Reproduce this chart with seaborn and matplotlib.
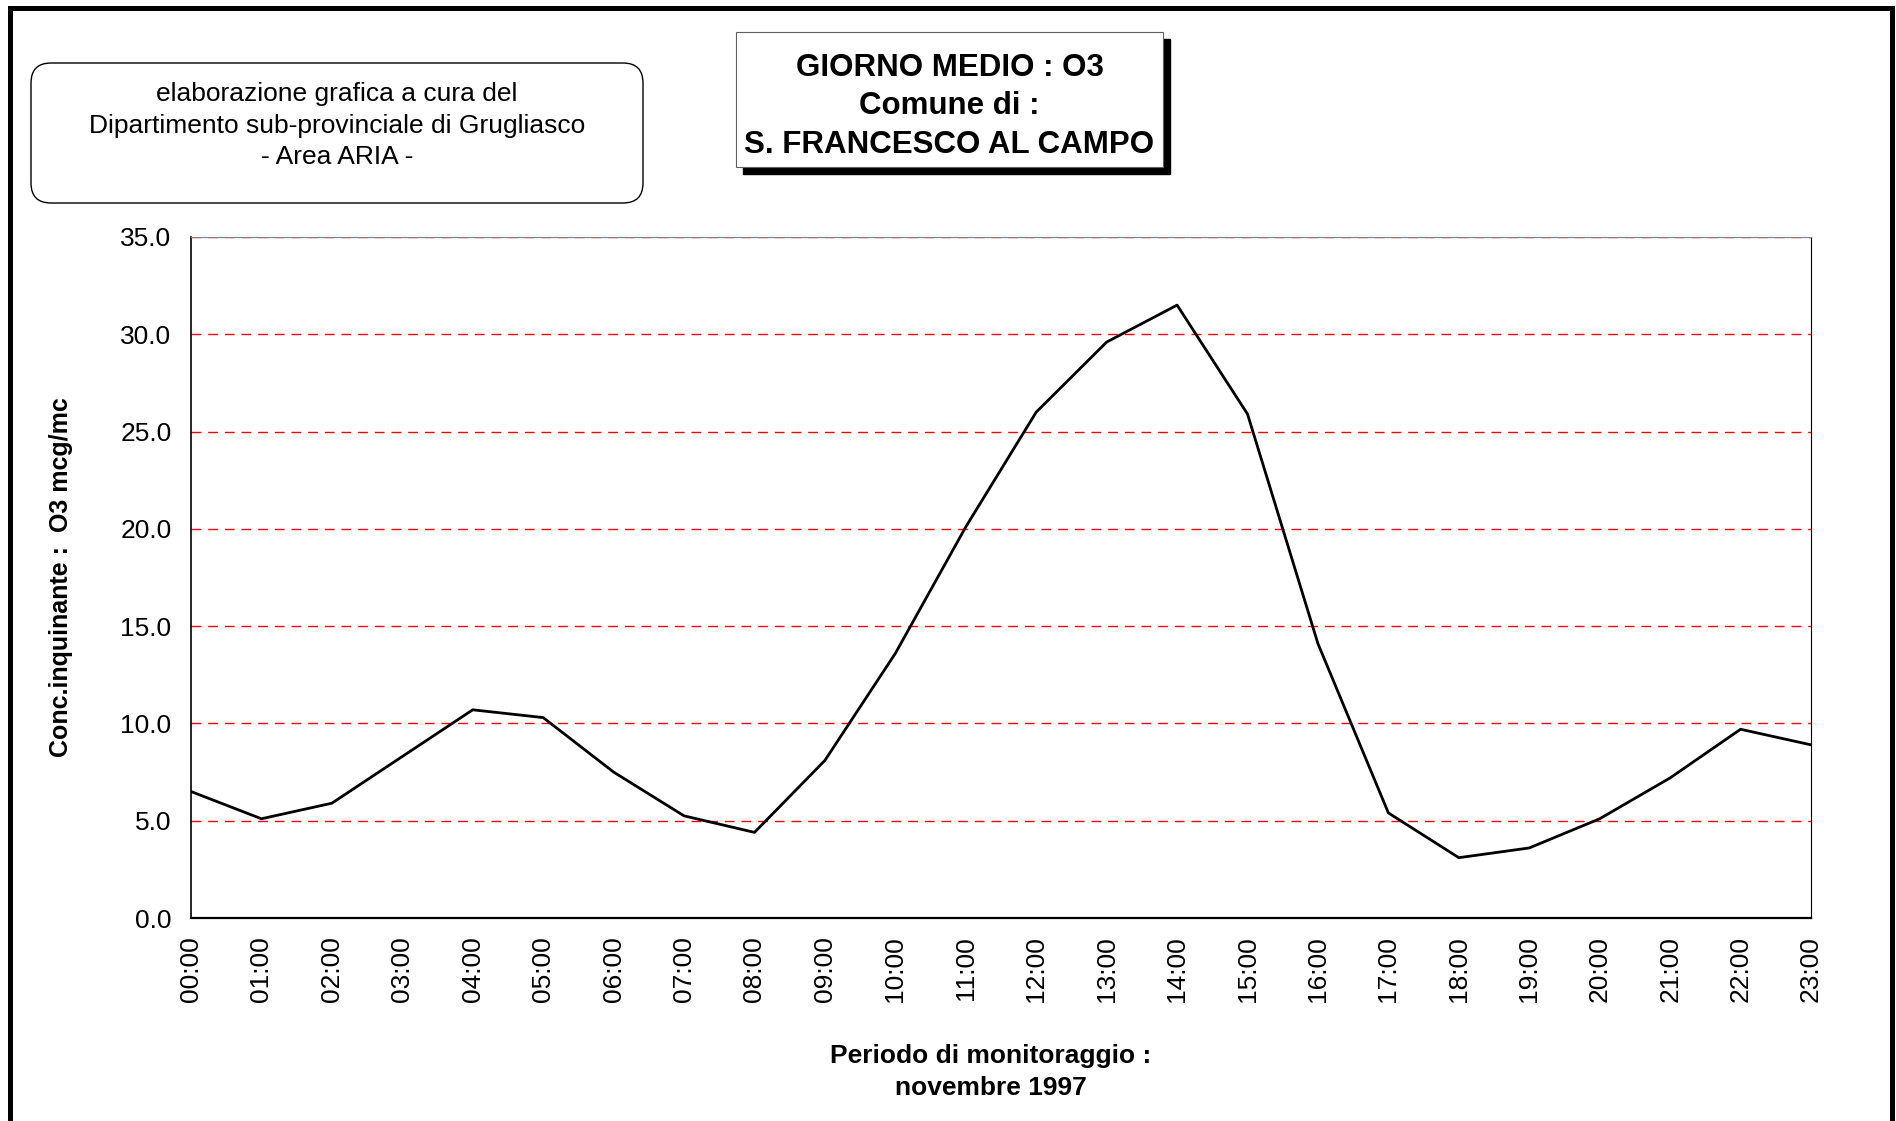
import numpy as np
import pandas as pd
import seaborn as sns
import matplotlib.pyplot as plt
from matplotlib.patches import FancyBboxPatch, Rectangle
from matplotlib.lines import Line2D

# hourly mean O3 (mcg/mc), novembre 1997
hours = ['00:00', '01:00', '02:00', '03:00', '04:00', '05:00', '06:00', '07:00',
         '08:00', '09:00', '10:00', '11:00', '12:00', '13:00', '14:00', '15:00',
         '16:00', '17:00', '18:00', '19:00', '20:00', '21:00', '22:00', '23:00']
o3 = [6.5, 5.1, 5.9, 8.3, 10.7, 10.3, 7.5, 5.25, 4.4, 8.1, 13.6, 20.1,
      26.0, 29.6, 31.5, 25.9, 14.1, 5.4, 3.1, 3.6, 5.1, 7.2, 9.7, 8.9]
yticks = [0, 5, 10, 15, 20, 25, 30, 35]

sns.set_style("white")
plt.rcParams['font.family'] = ['Liberation Sans', 'DejaVu Sans']
plt.rcParams['lines.scale_dashes'] = False
plt.rcParams['text.color'] = 'black'
plt.rcParams['axes.labelcolor'] = 'black'
plt.rcParams['xtick.color'] = 'black'
plt.rcParams['ytick.color'] = 'black'

W, H = 1896, 1121
fig = plt.figure(figsize=(W / 100, H / 100), dpi=100)
px = fig.dpi_scale_trans  # inches; 1 px = 0.01 in

def P(x, y):
    # pixel coords from top-left -> inches from bottom-left
    return x / 100, (H - y) / 100

ax = fig.add_axes([191 / W, 1 - 918 / H, (1811 - 191) / W, (918 - 237) / H])

df = pd.DataFrame({'ora': np.arange(len(hours)), 'O3': o3})
sns.lineplot(data=df, x='ora', y='O3', color='black', lw=2.0, ax=ax, sort=False)

ax.set_xlim(0, len(hours) - 1)
ax.set_ylim(0, 35)
ax.set_yticks(yticks)
ax.set_yticklabels([f"{v:.1f}" for v in yticks], fontsize=19)
ax.set_xticks(np.arange(len(hours)))
ax.set_xticklabels(hours, rotation=90, fontsize=19)
ax.tick_params(axis='x', length=0, pad=13)
ax.tick_params(axis='y', length=5, width=1, direction='out', pad=9, color='black')

ax.yaxis.grid(True, color='#ff0000', linestyle=(0, (7, 5)), lw=1)
ax.xaxis.grid(False)
ax.set_axisbelow(True)

for s in ['left', 'right', 'bottom', 'top']:
    ax.spines[s].set_visible(True)
ax.spines['left'].set_color('black')
ax.spines['left'].set_linewidth(1.2)
ax.spines['bottom'].set_color('black')
ax.spines['bottom'].set_linewidth(1.6)
ax.spines['right'].set_color('black')
ax.spines['right'].set_linewidth(0.8)
ax.spines['top'].set_color('#808080')
ax.spines['top'].set_linewidth(0.8)

ax.set_xlabel('')
ax.set_ylabel('Conc.inquinante :  O3 mcg/mc', fontsize=18, fontweight='bold')
ax.yaxis.set_label_coords((73 - 191) / 1620, 0.5)

fig.text(991 / W, 1 - 1072 / H, 'Periodo di monitoraggio :\nnovembre 1997',
         ha='center', va='center', fontsize=19, fontweight='bold', linespacing=1.45)

# outer frame (open at the bottom)
frame = Line2D([0.10, 0.10, 18.92, 18.92], [-0.5, (H - 7.5) / 100, (H - 7.5) / 100, -0.5],
               transform=px, color='black', lw=3.6, solid_joinstyle='miter')
fig.add_artist(frame)

# rounded note box
x0, y0 = P(31, 203)
note = FancyBboxPatch((x0 + 0.2, y0 + 0.2), (643 - 31) / 100 - 0.4, (203 - 63) / 100 - 0.4,
                      boxstyle='round,pad=0.2', transform=px, fc='white', ec='black', lw=1)
fig.add_artist(note)
fig.text(337 / W, 1 - 125.5 / H,
         'elaborazione grafica a cura del\nDipartimento sub-provinciale di Grugliasco\n- Area ARIA -',
         ha='center', va='center', fontsize=19, linespacing=1.38)

# title box with shadow
tx0, ty0 = P(736, 167)
tw, th = (1163 - 736) / 100, (167 - 32) / 100
fig.add_artist(Rectangle((tx0 + 0.07, ty0 - 0.07), tw, th, transform=px, fc='black', ec='black'))
fig.add_artist(Rectangle((tx0, ty0), tw, th, transform=px, fc='white', ec='#606060', lw=0.8))
fig.text(949.5 / W, 1 - 106.5 / H, 'GIORNO MEDIO : O3\nComune di :\nS. FRANCESCO AL CAMPO',
         ha='center', va='center', fontsize=22.5, fontweight='bold', linespacing=1.35)

fig.savefig('out.png', dpi=100)
